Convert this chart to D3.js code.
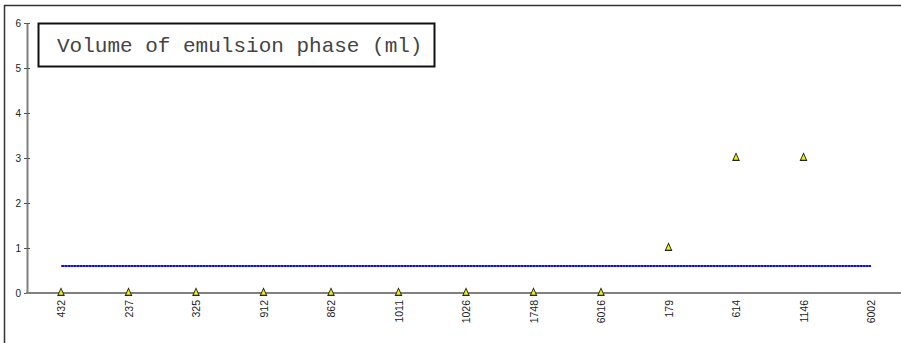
<!DOCTYPE html>
<html>
<head>
<meta charset="utf-8">
<script src="https://cdn.jsdelivr.net/npm/d3@7/dist/d3.min.js"></script>
<style>
  body { margin: 0; background: #fff; }
  svg { display: block; }
</style>
</head>
<body>
<div id="chart"></div>
<script>
// Sample labels along the x axis
var categories = ["432", "237", "325", "912", "862", "1011", "1026", "1748", "6016", "179", "614", "1146", "6002"];
// Volume of emulsion phase (ml), null = no marker
var volumes = [0, 0, 0, 0, 0, 0, 0, 0, 0, 1, 3, 3, null];
// Reference level drawn as the blue line
var reference = [0.6, 0.6, 0.6, 0.6, 0.6, 0.6, 0.6, 0.6, 0.6, 0.6, 0.6, 0.6, 0.6];
var yTicks = [0, 1, 2, 3, 4, 5, 6];
var title = "Volume of emulsion phase (ml)";

function drawChart() {
  var width = 901, height = 343;

  var svg = d3.select("#chart")
    .append("svg")
    .attr("width", width)
    .attr("height", height);

  // outer frame: only top and left edges are visible
  svg.append("path")
    .attr("d", "M4.5," + height + " V5.5 H" + width)
    .attr("fill", "none")
    .attr("stroke", "#333")
    .attr("stroke-width", 1.5);

  var xScale = d3.scalePoint()
    .domain(categories)
    .range([61, 871]);

  var yScale = d3.scaleLinear()
    .domain([0, 6])
    .range([293, 23]);

  // Y axis
  var yAxis = svg.append("g")
    .attr("transform", "translate(27,0)")
    .call(d3.axisLeft(yScale).tickValues(yTicks).tickSize(3).tickSizeOuter(0).tickFormat(d3.format("d")));
  yAxis.select(".domain").attr("stroke", "#808080").attr("stroke-width", 2);
  yAxis.selectAll(".tick line").attr("stroke", "#555").attr("x2", -3).attr("x1", 3);
  yAxis.selectAll(".tick text")
    .attr("x", -6)
    .style("font-family", "'Liberation Sans', Arial, sans-serif")
    .style("font-size", "10px")
    .attr("fill", "#222");

  // X axis line runs to the right edge
  svg.append("line")
    .attr("x1", 26).attr("x2", width)
    .attr("y1", yScale(0)).attr("y2", yScale(0))
    .attr("stroke", "#808080")
    .attr("stroke-width", 2);

  // X tick labels, rotated
  var xAxis = svg.append("g")
    .attr("transform", "translate(0," + yScale(0) + ")")
    .call(d3.axisBottom(xScale).tickSize(0));
  xAxis.select(".domain").remove();
  xAxis.selectAll(".tick text")
    .attr("transform", "rotate(-90)")
    .attr("x", -7)
    .attr("y", 0)
    .attr("dy", "0.35em")
    .style("text-anchor", "end")
    .style("font-family", "'Liberation Sans', Arial, sans-serif")
    .style("font-size", "10.5px")
    .attr("fill", "#222");

  // reference line (blue with dotted look)
  var line = d3.line()
    .x(function (d, i) { return xScale(categories[i]); })
    .y(function (d) { return yScale(d); });

  svg.append("path")
    .datum(reference)
    .attr("d", line)
    .attr("fill", "none")
    .attr("stroke", "#1010e0")
    .attr("stroke-width", 2);
  svg.append("path")
    .datum(reference)
    .attr("d", line)
    .attr("fill", "none")
    .attr("stroke", "#8080ff")
    .attr("stroke-width", 1)
    .attr("stroke-dasharray", "1,2");

  // triangle markers
  var tri = d3.symbol().type(d3.symbolTriangle).size(24);
  svg.selectAll(".pt")
    .data(volumes.map(function (v, i) { return { cat: categories[i], v: v }; })
      .filter(function (d) { return d.v !== null; }))
    .enter()
    .append("path")
    .attr("class", "pt")
    .attr("d", tri)
    .attr("transform", function (d) {
      return "translate(" + xScale(d.cat) + "," + yScale(d.v) + ") scale(0.85,1.1)";
    })
    .attr("fill", "#f0f000")
    .attr("stroke", "#222")
    .attr("stroke-width", 1);

  // title box
  svg.append("rect")
    .attr("x", 38.5).attr("y", 23.5)
    .attr("width", 396).attr("height", 43)
    .attr("fill", "#fff")
    .attr("stroke", "#111")
    .attr("stroke-width", 2);
  svg.append("text")
    .attr("x", 57).attr("y", 52)
    .style("font-family", "'Liberation Mono', 'Courier New', monospace")
    .style("font-size", "21px")
    .attr("fill", "#444")
    .text(title);
}

drawChart();
</script>
</body>
</html>
